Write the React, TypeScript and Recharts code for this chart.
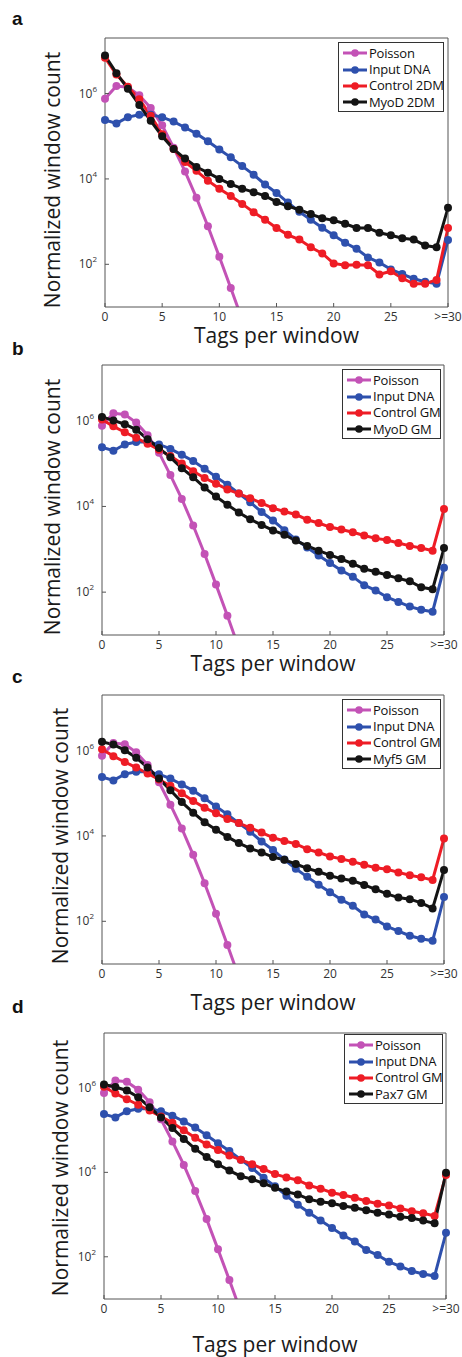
import { LineChart, Line, XAxis, YAxis, Legend } from 'recharts';

const tags = [0, 1, 2, 3, 4, 5, 6, 7, 8, 9, 10, 11, 12, 13, 14, 15, 16, 17, 18, 19, 20, 21, 22, 23, 24, 25, 26, 27, 28, 29, 30];
const xTicks = [0, 5, 10, 15, 20, 25, 30];
const yTicks = [100, 10000, 1000000];

const poisson = [7.6e5, 1.5e6, 1.4e6, 9.1e5, 4.6e5, 1.8e5, 5.4e4, 1.5e4, 3.6e3, 780, 150, 28, 5,
  null, null, null, null, null, null, null, null, null, null, null, null, null, null, null, null, null, null];
const inputDna = [2.4e5, 2.0e5, 2.8e5, 3.2e5, 3.2e5, 2.8e5, 2.2e5, 1.6e5, 1.15e5, 7.6e4, 4.9e4, 3.2e4, 2.0e4, 1.26e4, 7.4e3, 4.7e3,
  2.8e3, 1.7e3, 1.1e3, 720, 480, 320, 230, 145, 110, 76, 59, 46, 39, 35, 370];
const control2dm = [6.9e6, 2.8e6, 1.45e6, 7.4e5, 3.0e5, 1.12e5, 5.0e4, 2.5e4, 1.55e4, 9.1e3, 5.9e3, 4.0e3, 2.6e3, 1.65e3, 1.1e3, 710,
  490, 380, 250, 180, 105, 95, 98, 95, 58, 69, 47, 35, 35, 43, 710];
const myod2dm = [7.8e6, 3.0e6, 1.3e6, 5.4e5, 2.3e5, 1.0e5, 5.0e4, 3.0e4, 1.9e4, 1.4e4, 1.0e4, 7.6e3, 5.9e3, 4.9e3, 4.0e3, 2.9e3,
  2.3e3, 1.9e3, 1.5e3, 1.2e3, 1.07e3, 890, 710, 710, 550, 480, 410, 380, 275, 250, 2.1e3];
const controlGm = [1.07e6, 7.4e5, 5.4e5, 4.0e5, 2.9e5, 2.1e5, 1.5e5, 1.0e5, 6.6e4, 4.6e4, 3.4e4, 2.5e4, 2.0e4, 1.55e4, 1.2e4, 9.1e3,
  7.6e3, 6.5e3, 4.9e3, 4.1e3, 3.3e3, 2.9e3, 2.5e3, 2.1e3, 1.8e3, 1.65e3, 1.4e3, 1.2e3, 1.07e3, 930, 8.7e3];
const myodGm = [1.23e6, 1.02e6, 8.3e5, 6.2e5, 3.7e5, 2.3e5, 1.4e5, 7.8e4, 4.8e4, 2.75e4, 1.7e4, 1.1e4, 7.2e3, 5.0e3, 3.7e3, 2.75e3,
  2.2e3, 1.6e3, 1.2e3, 930, 740, 590, 460, 350, 300, 250, 210, 180, 130, 117, 1.07e3];
const myf5Gm = [1.6e6, 1.38e6, 1.02e6, 6.8e5, 4.0e5, 2.2e5, 1.17e5, 6.2e4, 3.5e4, 2.1e4, 1.4e4, 9.5e3, 6.8e3, 5.1e3, 4.1e3, 3.2e3,
  2.75e3, 2.2e3, 1.74e3, 1.45e3, 1.17e3, 1.0e3, 890, 710, 560, 440, 360, 330, 270, 200, 1.6e3];
const pax7Gm = [1.2e6, 1.05e6, 8.7e5, 6.0e5, 3.5e5, 2.0e5, 1.12e5, 6.2e4, 3.6e4, 2.3e4, 1.55e4, 1.1e4, 8.1e3, 6.9e3, 5.5e3, 4.3e3,
  3.5e3, 3.0e3, 2.3e3, 2.0e3, 1.86e3, 1.6e3, 1.45e3, 1.26e3, 1.1e3, 1.0e3, 890, 830, 720, 620, 9.8e3];

const PURPLE = '#c352b6';
const BLUE = '#2e50ad';
const RED = '#ee1c25';
const BLACK = '#141414';
const FONT = '"Open Sans", sans-serif';

type Series = { name: string; values: (number | null)[]; color: string };

const panels = [
  {
    letter: 'a', letterTop: 9,
    series: [
      { name: 'Poisson', values: poisson, color: PURPLE },
      { name: 'Input DNA', values: inputDna, color: BLUE },
      { name: 'Control 2DM', values: control2dm, color: RED },
      { name: 'MyoD 2DM', values: myod2dm, color: BLACK },
    ],
    left: 105, right: 448, top: 38, bottom: 307, titleBase: 343, yTitleX: 52, yTitleY: 180,
    legend: { left: 338, top: 42, width: 106 },
  },
  {
    letter: 'b', letterTop: 339,
    series: [
      { name: 'Poisson', values: poisson, color: PURPLE },
      { name: 'Input DNA', values: inputDna, color: BLUE },
      { name: 'Control GM', values: controlGm, color: RED },
      { name: 'MyoD GM', values: myodGm, color: BLACK },
    ],
    left: 102, right: 444, top: 365, bottom: 635, titleBase: 671, yTitleX: 52, yTitleY: 507,
    legend: { left: 342, top: 369, width: 99 },
  },
  {
    letter: 'c', letterTop: 667,
    series: [
      { name: 'Poisson', values: poisson, color: PURPLE },
      { name: 'Input DNA', values: inputDna, color: BLUE },
      { name: 'Control GM', values: controlGm, color: RED },
      { name: 'Myf5 GM', values: myf5Gm, color: BLACK },
    ],
    left: 102, right: 444, top: 695, bottom: 964, titleBase: 1010, yTitleX: 60, yTitleY: 836,
    legend: { left: 342, top: 699, width: 99 },
  },
  {
    letter: 'd', letterTop: 997,
    series: [
      { name: 'Poisson', values: poisson, color: PURPLE },
      { name: 'Input DNA', values: inputDna, color: BLUE },
      { name: 'Control GM', values: controlGm, color: RED },
      { name: 'Pax7 GM', values: pax7Gm, color: BLACK },
    ],
    left: 104, right: 446, top: 1033, bottom: 1299, titleBase: 1352, yTitleX: 60, yTitleY: 1168,
    legend: { left: 344, top: 1034, width: 99 },
  },
];

const PowTick = (props: any) => {
  const { x, y, payload } = props;
  const exp = Math.round(Math.log10(payload.value));
  return (
    <text x={x} y={y} textAnchor='end' fill='#333' fontSize={12} fontFamily={FONT}>
      <tspan dy={4}>10</tspan>
      <tspan dy={-6} fontSize={8}>{exp}</tspan>
    </text>
  );
};

const Title = (props: any) => {
  const { tx, ty, rotate, text } = props;
  return (
    <text
      x={tx}
      y={ty}
      textAnchor='middle'
      dominantBaseline={rotate ? 'central' : 'auto'}
      transform={rotate ? `rotate(-90 ${tx} ${ty})` : undefined}
      fill='#1a1a1a'
      fontSize={21}
      fontFamily={FONT}
    >
      {text}
    </text>
  );
};

const LegendBox = ({ series, width }: { series: Series[]; width: number }) => (
  <div style={{ width, border: '1px solid #333', background: '#fff', paddingTop: 2, boxSizing: 'border-box' }}>
    {series.map((s) => (
      <div key={s.name} style={{ display: 'flex', alignItems: 'center', height: 16.4 }}>
        <svg width={30} height={12} style={{ flex: 'none' }}>
          <line x1={4} x2={28} y1={6} y2={6} stroke={s.color} strokeWidth={3} />
          <circle cx={16} cy={6} r={3.8} fill={s.color} />
        </svg>
        <span style={{ fontSize: 13, fontFamily: FONT, color: '#111', whiteSpace: 'nowrap', lineHeight: 1, letterSpacing: -0.2 }}>{s.name}</span>
      </div>
    ))}
  </div>
);

function Panel({ p }: { p: (typeof panels)[number] }) {
  const chartTop = p.top - 10;
  const xAxisH = p.titleBase - p.bottom;
  const chartH = p.bottom - chartTop + xAxisH + 9;
  const rows = tags.map((t, i) => {
    const row: Record<string, number | null> = { tag: t };
    p.series.forEach((s, k) => {
      row['s' + k] = s.values[i];
    });
    return row;
  });

  return (
    <div style={{ position: 'absolute', left: 0, top: chartTop }}>
      <LineChart width={462} height={chartH} data={rows} margin={{ top: 9, right: 462 - p.right - 1, bottom: 9, left: 0 }}>
        <XAxis
          dataKey='tag'
          type='number'
          domain={[0, 30]}
          ticks={xTicks}
          tickFormatter={(v: number) => (v === 30 ? '>=30' : String(v))}
          height={xAxisH}
          tickSize={-4}
          tickMargin={9}
          stroke='#555'
          tick={{ fill: '#333', fontSize: 12, fontFamily: FONT }}
          label={<Title tx={(p.left + p.right) / 2} ty={p.titleBase - chartTop} text='Tags per window' />}
        />
        <XAxis
          xAxisId='top'
          orientation='top'
          dataKey='tag'
          type='number'
          domain={[0, 30]}
          ticks={xTicks}
          tick={false}
          tickSize={-4}
          height={1}
          stroke='#555'
        />
        <YAxis
          yAxisId='left'
          scale='log'
          domain={[10, 2e7]}
          allowDataOverflow
          ticks={yTicks}
          width={p.left}
          tickSize={-4}
          tickMargin={12}
          stroke='#555'
          tick={<PowTick />}
          label={<Title tx={p.yTitleX} ty={p.yTitleY - chartTop} rotate text='Normalized window count' />}
        />
        <YAxis
          yAxisId='right'
          orientation='right'
          scale='log'
          domain={[10, 2e7]}
          allowDataOverflow
          ticks={yTicks}
          width={1}
          tick={false}
          tickSize={-4}
          stroke='#555'
        />
        <Legend
          layout='horizontal'
          verticalAlign='middle'
          align='center'
          wrapperStyle={{ top: p.legend.top - chartTop, left: p.legend.left, width: p.legend.width }}
          content={() => <LegendBox series={p.series} width={p.legend.width} />}
        />
        {p.series.map((s, k) => (
          <Line
            key={s.name}
            yAxisId='left'
            dataKey={'s' + k}
            name={s.name}
            type='linear'
            stroke={s.color}
            strokeWidth={3}
            dot={{ r: 4, fill: s.color, stroke: s.color, strokeWidth: 0 }}
            isAnimationActive={false}
          />
        ))}
      </LineChart>
    </div>
  );
}

export default function App() {
  return (
    <div style={{ position: 'absolute', left: 0, top: 0, width: 462, height: 1357, background: '#fff', overflow: 'hidden' }}>
      {panels.map((p) => (
        <Panel key={p.letter} p={p} />
      ))}
      {panels.map((p) => (
        <div
          key={'l' + p.letter}
          style={{ position: 'absolute', left: 12, top: p.letterTop, fontFamily: '"Liberation Sans", Arial, sans-serif', fontWeight: 'bold', fontSize: 19, lineHeight: 1, color: '#111' }}
        >
          {p.letter}
        </div>
      ))}
    </div>
  );
}
